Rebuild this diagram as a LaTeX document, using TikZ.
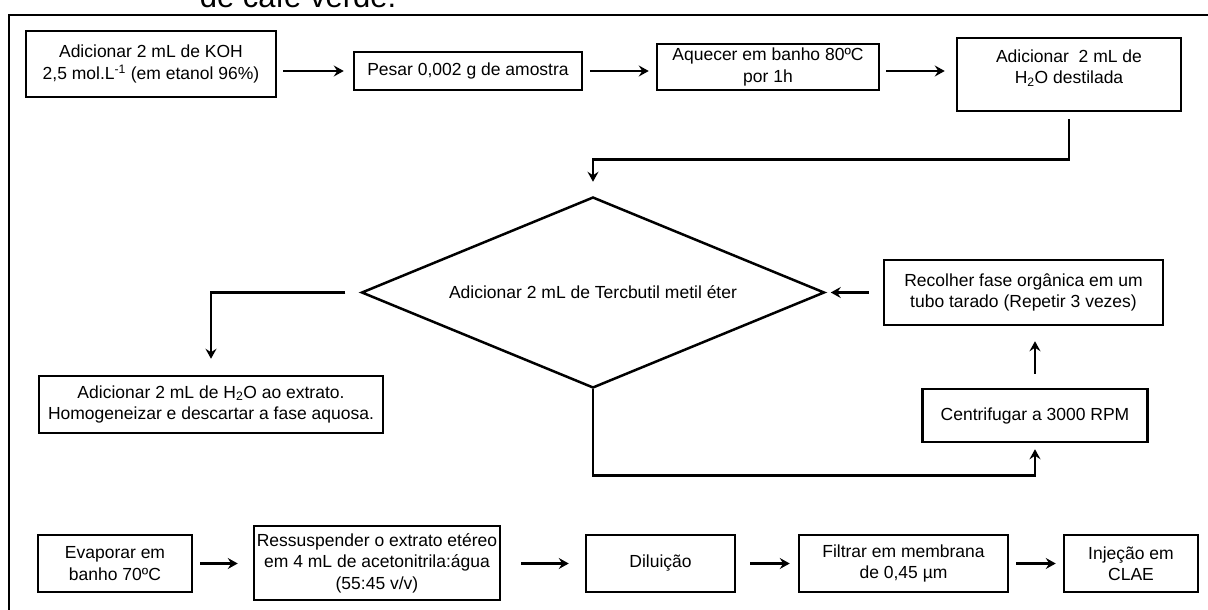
\documentclass[tikz,border=0pt]{standalone}
\usepackage{fontspec}
\setmainfont{Liberation Sans}
\usetikzlibrary{arrows.meta,shapes.geometric,calc}
\begin{document}
\begin{tikzpicture}[x=1pt,y=-1pt,
  box/.style={draw,line width=2.5pt,align=center,inner sep=2pt,font=\fontsize{17.5}{21.5}\selectfont},
  dec/.style={draw,diamond,line width=2.5pt,inner sep=0pt,aspect=2.42,font=\fontsize{17.5}{21.5}\selectfont},
  arr/.style={line width=2.5pt,-{Stealth[length=10pt,width=11pt,inset=3.5pt]}},
  ln/.style={line width=2.5pt}]
\useasboundingbox (0,0) rectangle (1208,610);
\clip (0,0) rectangle (1208,610);
% frame
\draw[ln] (9,650) -- (9,15) -- (1250,15);
\node[anchor=base,font=\fontsize{31}{36}\selectfont,inner sep=0pt] (title) at (298,8) {de café verde.};
% top row
\node[box,minimum width=250,minimum height=66] (b1) at (151,64) {Adicionar 2 mL de KOH\\2,5 mol.L\textsuperscript{-1} (em etanol 96\%)};
\node[box,minimum width=228,minimum height=38] (b2) at (468,71) {Pesar 0,002 g de amostra};
\node[box,minimum width=222,minimum height=46] (b3) at (768,67) {Aquecer em banho 80ºC\\por 1h};
\node[box,minimum width=224,minimum height=73] (b4) at (1069,74.5) {Adicionar\ \ 2 mL de\\H\textsubscript{2}O destilada\rule[-16pt]{0pt}{16pt}};
% middle
\node[dec,minimum width=463,minimum height=191] (dia) at (593,292.5) {Adicionar 2 mL de Tercbutil metil éter};
\node[box,minimum width=344,minimum height=57] (b5) at (211,404.5) {Adicionar 2 mL de H\textsubscript{2}O ao extrato.\\Homogeneizar e descartar a fase aquosa.};
\node[box,minimum width=279,minimum height=65] (b6) at (1023.5,292.5) {Recolher fase orgânica em um\\tubo tarado (Repetir 3 vezes)};
\node[box,minimum width=225,minimum height=53] (b7) at (1035,415.5) {Centrifugar a 3000 RPM};
% bottom row
\node[box,minimum width=154,minimum height=57] (b8) at (115,563.5) {Evaporar em\\banho 70ºC};
\node[box,minimum width=246,minimum height=74] (b9) at (377,563) {Ressuspender o extrato etéreo\\em 4 mL de acetonitrila:água\\(55:45 v/v)};
\node[box,minimum width=149,minimum height=57] (b10) at (660.5,563.5) {Diluição};
\node[box,minimum width=209,minimum height=57] (b11) at (903.5,563.5) {Filtrar em membrana\\de 0,45 µm};
\node[box,minimum width=134,minimum height=57] (b12) at (1131,563.5) {Injeção em\\CLAE};
% connectors
\draw[arr,shorten <=6,shorten >=9] (b1.east |- b2.west) -- (b2.west);
\draw[arr,shorten <=7,shorten >=7] (b2.east) -- (b3.west |- b2.east);
\draw[arr,shorten <=6,shorten >=11] (b3.east |- b2.east) -- (b4.west |- b2.east);
\coordinate (t1) at ($(b4.south)+(0,47)$);
\draw[arr,shorten <=7,shorten >=14] (b4.south) -- (t1) -| (dia.north);
\draw[arr,shorten <=15,shorten >=16] (dia.west) -| (b5.north);
\draw[arr,shorten <=14,shorten >=5] (b6.west) -- (dia.east);
\draw[arr,shorten <=14,shorten >=15] (b7.north) -- (b7.north |- b6.south);
\coordinate (t2) at ($(dia.south)+(0,86)$);
\draw[arr,shorten >=6] (dia.south) -- (t2) -| (b7.south);
\draw[arr,shorten <=7,shorten >=15] (b8.east) -- (b9.west |- b8.east);
\draw[arr,shorten <=20,shorten >=16] (b9.east |- b10.west) -- (b10.west);
\draw[arr,shorten <=14,shorten >=8] (b10.east) -- (b11.west);
\draw[arr,shorten <=7,shorten >=7] (b11.east) -- (b12.west);
\end{tikzpicture}
\end{document}
